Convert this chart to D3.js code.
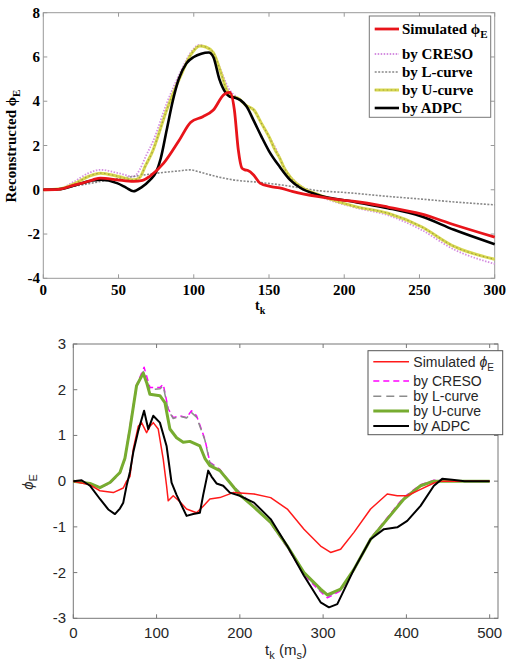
<!DOCTYPE html>
<meta charset="utf-8">
<style>
body { margin: 0; background: #fff; }
.top text { font-family: "Liberation Serif", "Times New Roman", serif; font-weight: bold; }
.bot text { font-family: "Liberation Sans", Arial, sans-serif; }
</style>
<script src="https://d3js.org/d3.v7.min.js"></script>
<div id="chart"></div>
<script>

// ---- top panel data ----
var topTicksX = [0, 50, 100, 150, 200, 250, 300];
var topTicksY = [-4, -2, 0, 2, 4, 6, 8];
var topLabels = ["Simulated", "by CRESO", "by L-curve", "by U-curve", "by ADPC"];

var tSimTop = [0,10,20,26,33,38,49,60,66,71,80,90,98,106,113,120,124,127,129.6,132,134,136,139.6,144,150.7,157,166,182,200,207,229,251,273,300];
var vSimTop = [0,0.02,0.2,0.3,0.45,0.53,0.45,0.38,0.42,0.62,1.2,2.2,3.05,3.3,3.6,4.3,4.4,3.6,1.8,0.98,0.9,0.87,0.68,0.3,0.15,0.08,-0.08,-0.3,-0.48,-0.53,-0.78,-1.09,-1.58,-2.14];

var tCresoTop = [0,10,20,30,38,50,60,64,68,73,82,91,98,104,108,113,118,123,129,135,140,145,150,155,158,162,167,174,184,207,229,251,273,300];
var vCresoTop = [0,0.04,0.35,0.75,0.9,0.75,0.6,0.9,1.5,2.2,3.9,5.3,6.2,6.55,6.45,6.2,5.4,4.6,4.15,3.8,3.6,3.0,2.4,1.8,1.3,0.8,0.4,0.05,-0.3,-0.8,-1.15,-1.8,-2.7,-3.35];

var tLTop = [0,10,15.5,26.6,44.3,60,75.4,90,97.5,104,115,126,144,162,171,184,200,229,251,273,300];
var vLTop = [0,0.02,0.1,0.23,0.45,0.6,0.75,0.85,0.9,0.8,0.6,0.45,0.33,0.18,0.08,-0.05,-0.12,-0.3,-0.42,-0.55,-0.68];

var tUTop = [0,10,20,30,38,50,60,64,68,73,75.4,82,91,98,104,108,113,118,122,126,129,135,140,145,150,154,157,160,165,172,184,207,229,251,273,300];
var vUTop = [0,0.03,0.25,0.6,0.75,0.6,0.45,0.55,1.1,1.8,2.26,3.6,5.1,6.1,6.5,6.45,6.2,5.3,4.5,4.2,4.15,3.8,3.6,3.0,2.4,1.8,1.45,1.0,0.5,0.1,-0.25,-0.75,-1.06,-1.66,-2.56,-3.14];

var tAdpcTop = [0,10,20,30,38,49,55,60,65,71,75,78,82,86,90,95,100,105,110,113,117,121,124,128,131,135,140,145,150,157,164,171,182,207,229,251,273,300];
var vAdpcTop = [0,0.02,0.18,0.38,0.45,0.3,0.1,-0.07,0.1,0.45,0.8,1.4,2.7,4.0,5.0,5.7,6.0,6.15,6.2,6.0,5.0,4.4,4.2,4.15,4.05,3.77,3.1,2.4,1.75,1.05,0.45,0.08,-0.22,-0.55,-0.83,-1.2,-1.81,-2.46];

// ---- bottom panel data ----
var botTicksX = [0, 100, 200, 300, 400, 500];
var botTicksY = [-3, -2, -1, 0, 1, 2, 3];

var tSimBot = [0,20,32,48,60,64,68,72,78,82,88,92,96,102,108,112,114,120,128,136,148,156,164,176,192,217,237,257,277,297,309,321,337,357,377,389,401,417,433,441,500];
var vSimBot = [0,-0.08,-0.21,-0.25,-0.15,0.0,0.1,0.7,1.2,1.28,1.06,1.2,1.28,1.14,0.48,-0.1,-0.43,-0.32,-0.45,-0.61,-0.69,-0.55,-0.39,-0.36,-0.25,-0.28,-0.36,-0.61,-1.05,-1.42,-1.56,-1.49,-1.12,-0.61,-0.28,-0.32,-0.32,-0.18,-0.04,0,0];

var tCresoBot = [0,20,32,44,56,62,68,76,85,92,104,108,114,120,128,136,142,148,158,164,176,188,200,217,237,257,277,297,305,321,337,357,377,397,417,433,500];
var vCresoBot = [0,-0.05,-0.14,-0.05,0.18,0.5,1.2,2.1,2.49,2.05,2.05,2.12,1.58,1.39,1.43,1.39,1.54,1.43,0.92,0.41,0.26,-0.03,-0.25,-0.55,-0.92,-1.45,-2.05,-2.42,-2.55,-2.4,-1.95,-1.25,-0.8,-0.35,-0.08,0.02,0];

var tLBot = [0,20,32,44,56,62,68,76,84,92,104,108,114,120,128,136,142,148,158,164,176,188,200,217,237,257,277,297,305,321,337,357,377,397,417,433,500];
var vLBot = [0,-0.05,-0.14,-0.05,0.17,0.48,1.15,2.05,2.4,2.0,2.02,2.08,1.55,1.37,1.42,1.38,1.5,1.4,0.9,0.4,0.25,-0.03,-0.25,-0.55,-0.9,-1.43,-2.02,-2.4,-2.52,-2.38,-1.94,-1.26,-0.82,-0.37,-0.09,0.01,0];

var tUBot = [0,20,32,44,56,62,68,76,84,88,92,104,110,116,124,132,140,152,158,164,176,188,200,217,237,257,277,297,305,321,337,357,377,397,417,433,500];
var vUBot = [0,-0.05,-0.14,-0.03,0.19,0.5,1.14,2.09,2.36,2.16,1.9,1.87,1.72,1.14,0.95,0.85,0.87,0.77,0.5,0.34,0.23,-0.03,-0.3,-0.57,-0.9,-1.42,-2.0,-2.36,-2.49,-2.36,-1.93,-1.27,-0.83,-0.39,-0.1,0,0];

var tAdpcBot = [0,10,20,32,42,50,56,60,64,68,72,78,85,90,96,104,112,118,124,136,144,152,156,160,162,166,172,180,188,200,217,237,257,277,297,307,317,337,357,373,389,401,417,433,443,455,470,500];
var vAdpcBot = [0,0.02,-0.1,-0.39,-0.62,-0.72,-0.6,-0.47,-0.1,0.2,0.63,1.1,1.54,1.14,1.43,1.28,0.77,-0.03,-0.3,-0.76,-0.72,-0.69,-0.3,0.05,0.23,0.1,-0.05,-0.1,-0.25,-0.32,-0.47,-0.83,-1.42,-2.07,-2.65,-2.76,-2.69,-1.93,-1.27,-1.05,-1.01,-0.87,-0.54,-0.1,0.05,0.03,0,0];

function pairs(t, v) { return t.map(function(d, i) { return [d, v[i]]; }); }

var svg = d3.select("#chart").append("svg")
    .attr("width", 508)
    .attr("height", 660);

// ================= top panel =================
var gt = svg.append("g").attr("class", "top");
var x1 = d3.scaleLinear().domain([0, 300]).range([43.3, 494.7]);
var y1 = d3.scaleLinear().domain([-4, 8]).range([278.3, 12.7]);

gt.append("rect")
    .attr("x", x1(0)).attr("y", y1(8))
    .attr("width", x1(300) - x1(0)).attr("height", y1(-4) - y1(8))
    .attr("fill", "none").attr("stroke", "#999").attr("stroke-width", 1);

gt.selectAll(".xt").data(topTicksX).enter().append("g").each(function(d) {
  var g = d3.select(this);
  g.append("line").attr("x1", x1(d)).attr("x2", x1(d)).attr("y1", y1(-4)).attr("y2", y1(-4) - 4).attr("stroke", "#999");
  g.append("line").attr("x1", x1(d)).attr("x2", x1(d)).attr("y1", y1(8)).attr("y2", y1(8) + 4).attr("stroke", "#999");
  g.append("text").attr("x", x1(d)).attr("y", 295).attr("text-anchor", "middle")
    .style("font-size", "15px").text(d);
});
gt.selectAll(".yt").data(topTicksY).enter().append("g").each(function(d) {
  var g = d3.select(this);
  g.append("line").attr("x1", x1(0)).attr("x2", x1(0) + 4).attr("y1", y1(d)).attr("y2", y1(d)).attr("stroke", "#999");
  g.append("line").attr("x1", x1(300)).attr("x2", x1(300) - 4).attr("y1", y1(d)).attr("y2", y1(d)).attr("stroke", "#999");
  g.append("text").attr("x", 40).attr("y", y1(d) + 5).attr("text-anchor", "end")
    .style("font-size", "15px").text(d);
});

// x label sits just under the "150" tick label
var xl1 = gt.append("text").attr("x", 255).attr("y", 310).style("font-size", "14px");
xl1.append("tspan").text("t");
xl1.append("tspan").attr("dy", 4).style("font-size", "10px").text("k");

var yl1 = gt.append("text").attr("transform", "translate(16,146) rotate(-90)")
    .attr("text-anchor", "middle").style("font-size", "15px");
yl1.append("tspan").text("Reconstructed  \u03d5");
yl1.append("tspan").attr("dy", 4).style("font-size", "11px").text("E");

var line1 = d3.line().x(function(d) { return x1(d[0]); }).y(function(d) { return y1(d[1]); })
    .curve(d3.curveMonotoneX);

var topStyles = [
  {stroke: "#888", w: 1.6, dash: "2,1.5"},
  {stroke: "#d8d850", w: 3, dash: null},
  {stroke: "#a0a040", w: 1.2, dash: "1.5,2.5"},
  {stroke: "#d48ee0", w: 1.8, dash: "1.5,1.5"},
  {stroke: "#000", w: 2.6, dash: null},
  {stroke: "#e8141a", w: 2.8, dash: null}
];
var topSeries = [pairs(tLTop, vLTop), pairs(tUTop, vUTop), pairs(tUTop, vUTop),
                 pairs(tCresoTop, vCresoTop), pairs(tAdpcTop, vAdpcTop), pairs(tSimTop, vSimTop)];
var order1 = [3, 0, 1, 2, 4, 5];
order1.forEach(function(i) {
  var s = topStyles[i];
  gt.append("path").datum(topSeries[i]).attr("d", line1)
    .attr("fill", "none").attr("stroke", s.stroke).attr("stroke-width", s.w)
    .attr("stroke-dasharray", s.dash);
});

// top legend
gt.append("rect").attr("x", 369.3).attr("y", 16).attr("width", 121.4).attr("height", 101.3)
    .attr("fill", "#fff").attr("stroke", "#777");
var legY1 = [29, 54, 72, 90, 108];
var legSt1 = [[5], [3], [0], [1, 2], [4]];
topLabels.forEach(function(lab, i) {
  legSt1[i].forEach(function(k) {
    var s = topStyles[k];
    gt.append("line").attr("x1", 374.7).attr("x2", 399).attr("y1", legY1[i]).attr("y2", legY1[i])
      .attr("stroke", s.stroke).attr("stroke-width", s.w).attr("stroke-dasharray", s.dash);
  });
  var t = gt.append("text").attr("x", 402).attr("y", legY1[i] + 5).style("font-size", "15px");
  if (i == 0) {
    t.append("tspan").text("Simulated \u03d5");
    t.append("tspan").attr("dy", 4).style("font-size", "11px").text("E");
  } else {
    t.text(lab);
  }
});

// ================= bottom panel =================
var gb = svg.append("g").attr("class", "bot");
var x2 = d3.scaleLinear().domain([0, 510]).range([73.3, 498]);
var y2 = d3.scaleLinear().domain([-3, 3]).range([618.3, 344]);

gb.append("rect")
    .attr("x", x2(0)).attr("y", y2(3))
    .attr("width", x2(510) - x2(0)).attr("height", y2(-3) - y2(3))
    .attr("fill", "none").attr("stroke", "#777").attr("stroke-width", 1);

gb.selectAll(".xt").data(botTicksX).enter().append("g").each(function(d) {
  var g = d3.select(this);
  g.append("line").attr("x1", x2(d)).attr("x2", x2(d)).attr("y1", y2(-3)).attr("y2", y2(-3) - 4).attr("stroke", "#777");
  g.append("line").attr("x1", x2(d)).attr("x2", x2(d)).attr("y1", y2(3)).attr("y2", y2(3) + 4).attr("stroke", "#777");
  g.append("text").attr("x", x2(d)).attr("y", 638).attr("text-anchor", "middle")
    .attr("fill", "#262626").style("font-size", "15px").text(d);
});
gb.selectAll(".yt").data(botTicksY).enter().append("g").each(function(d) {
  var g = d3.select(this);
  g.append("line").attr("x1", x2(0)).attr("x2", x2(0) + 4).attr("y1", y2(d)).attr("y2", y2(d)).attr("stroke", "#777");
  g.append("line").attr("x1", x2(510)).attr("x2", x2(510) - 4).attr("y1", y2(d)).attr("y2", y2(d)).attr("stroke", "#777");
  g.append("text").attr("x", 66).attr("y", y2(d) + 5).attr("text-anchor", "end")
    .attr("fill", "#262626").style("font-size", "15px").text(d);
});

var xl2 = gb.append("text").attr("x", 286).attr("y", 655).attr("text-anchor", "middle")
    .attr("fill", "#262626").style("font-size", "15px");
xl2.append("tspan").text("t");
xl2.append("tspan").attr("dy", 4).style("font-size", "11px").text("k");
xl2.append("tspan").attr("dy", -4).text(" (m");
xl2.append("tspan").attr("dy", 4).style("font-size", "11px").text("s");
xl2.append("tspan").attr("dy", -4).text(")");

var yl2 = gb.append("text").attr("transform", "translate(33,482) rotate(-90)")
    .attr("text-anchor", "middle").attr("fill", "#262626").style("font-size", "15px");
yl2.append("tspan").style("font-style", "italic").text("\u03d5");
yl2.append("tspan").attr("dy", 4).style("font-size", "11px").text("E");

var line2 = d3.line().x(function(d) { return x2(d[0]); }).y(function(d) { return y2(d[1]); });

var botStyles = [
  {stroke: "#ff1a1a", w: 1.5, dash: null},
  {stroke: "#ff00ff", w: 1.5, dash: "6,4"},
  {stroke: "#8c8c8c", w: 1.5, dash: "8,5"},
  {stroke: "#77ac30", w: 3, dash: null},
  {stroke: "#000", w: 2, dash: null}
];
var botSeries = [pairs(tSimBot, vSimBot), pairs(tCresoBot, vCresoBot), pairs(tLBot, vLBot),
                 pairs(tUBot, vUBot), pairs(tAdpcBot, vAdpcBot)];
[1, 2, 3, 0, 4].forEach(function(i) {
  var s = botStyles[i];
  gb.append("path").datum(botSeries[i]).attr("d", line2)
    .attr("fill", "none").attr("stroke", s.stroke).attr("stroke-width", s.w)
    .attr("stroke-dasharray", s.dash).attr("stroke-linejoin", "round");
});

// bottom legend
gb.append("rect").attr("x", 368).attr("y", 350.7).attr("width", 134.7).attr("height", 84)
    .attr("fill", "#fff").attr("stroke", "#555");
var legY2 = [361.7, 381, 396.3, 411, 426];
topLabels.forEach(function(lab, i) {
  var s = botStyles[i];
  gb.append("line").attr("x1", 373.3).attr("x2", 409).attr("y1", legY2[i]).attr("y2", legY2[i])
    .attr("stroke", s.stroke).attr("stroke-width", s.w).attr("stroke-dasharray", s.dash);
  var t = gb.append("text").attr("x", 413.3).attr("y", legY2[i] + 5).attr("fill", "#262626").style("font-size", "14px");
  if (i == 0) {
    t.append("tspan").text("Simulated ");
    t.append("tspan").style("font-style", "italic").text("\u03d5");
    t.append("tspan").attr("dy", 4).style("font-size", "10px").text("E");
  } else {
    t.text(lab);
  }
});

</script>
